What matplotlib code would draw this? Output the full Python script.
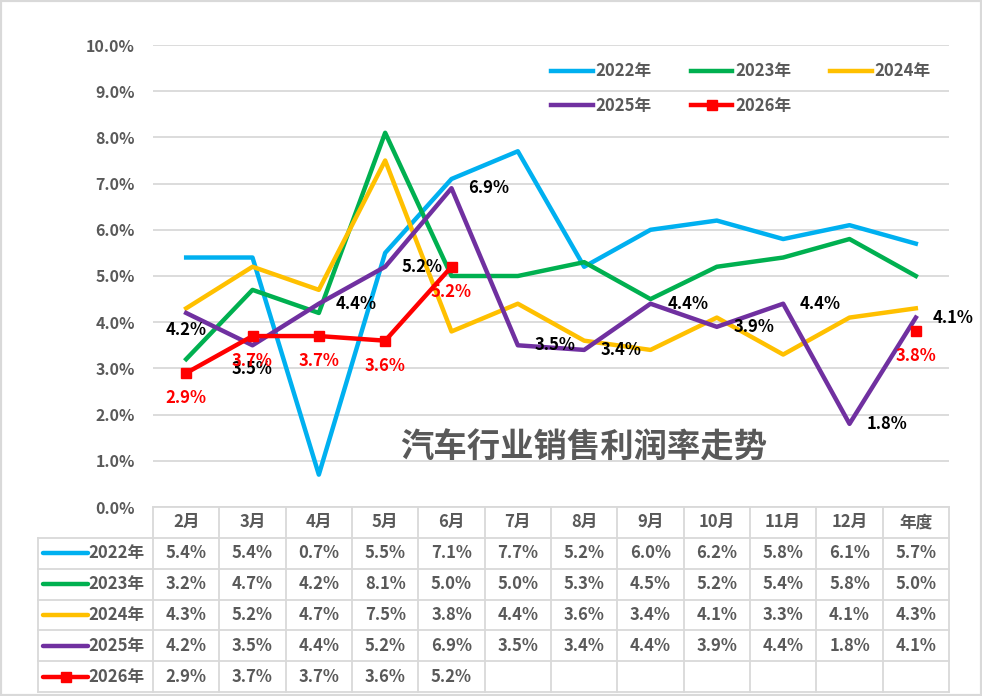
import numpy as np
import matplotlib
matplotlib.use('Agg')
import matplotlib.pyplot as plt
from matplotlib.patches import Rectangle

plt.rcParams['font.family'] = ['Noto Sans CJK SC', 'DejaVu Sans']

months = ['2月', '3月', '4月', '5月', '6月', '7月', '8月', '9月', '10月', '11月', '12月', '年度']
years = ['2022年', '2023年', '2024年', '2025年', '2026年']

y2022 = [5.4, 5.4, 0.7, 5.5, 7.1, 7.7, 5.2, 6.0, 6.2, 5.8, 6.1, 5.7]
y2023 = [3.2, 4.7, 4.2, 8.1, 5.0, 5.0, 5.3, 4.5, 5.2, 5.4, 5.8, 5.0]
y2024 = [4.3, 5.2, 4.7, 7.5, 3.8, 4.4, 3.6, 3.4, 4.1, 3.3, 4.1, 4.3]
y2025 = [4.2, 3.5, 4.4, 5.2, 6.9, 3.5, 3.4, 4.4, 3.9, 4.4, 1.8, 4.1]
y2026 = [2.9, 3.7, 3.7, 3.6, 5.2, None, None, None, None, None, None, 3.8]

colors = ['#00B0F0', '#00B050', '#FFC000', '#7030A0', '#FF0000']
gray = '#595959'
grid = '#D9D9D9'

W, H = 982, 696
fig = plt.figure(figsize=(W / 100, H / 100), dpi=100)

def px_rect(x0, y0, x1, y1):
    # pixel box (top-left origin) -> figure fraction
    return [x0 / W, 1 - y1 / H, (x1 - x0) / W, (y1 - y0) / H]

ax = fig.add_axes(px_rect(153, 45, 949, 507))
x = np.arange(len(months))
series = [y2022, y2023, y2024, y2025, y2026]
for name, vals, c in zip(years, series, colors):
    v = np.array([np.nan if a is None else a for a in vals], dtype=float)
    if name == '2026年':
        ax.plot(x, v, color=c, lw=3.2, marker='s', ms=7, label=name, zorder=5)
    else:
        ax.plot(x, v, color=c, lw=3.2, label=name, zorder=3)

ax.set_xlim(-0.5, len(months) - 0.5)
ax.set_ylim(0, 10)
ax.set_yticks(np.arange(0, 11))
ax.set_yticklabels(['%.1f%%' % t for t in range(11)])
ax.set_xticks([])
ax.tick_params(axis='y', length=0, pad=13, labelsize=11.5, labelcolor=gray)
for lab in ax.get_yticklabels():
    lab.set_fontweight('bold')
ax.grid(axis='y', color=grid, lw=1.3)
ax.set_axisbelow(True)
for s in ax.spines.values():
    s.set_visible(False)

# data labels: 2025 (black) and 2026 (red)
lab_font = dict(fontsize=12, fontweight='bold')
for i, v in enumerate(y2025):
    if i < 2:
        ax.annotate('%.1f%%' % v, (i, v), xytext=(0, -12 if i == 0 else -17),
                    textcoords='offset points', ha='center', va='center',
                    color='black', zorder=6, **lab_font)
    else:
        ax.annotate('%.1f%%' % v, (i, v), xytext=(12, 0),
                    textcoords='offset points', ha='left', va='center',
                    color='black', zorder=6, **lab_font)
for i, v in enumerate(y2026):
    if v is None:
        continue
    ax.annotate('%.1f%%' % v, (i, v), xytext=(0, -18),
                textcoords='offset points', ha='center', va='center',
                color='#FF0000', zorder=6, **lab_font)

ax.text(0.541, 0.128, '汽车行业销售利润率走势', transform=ax.transAxes,
        ha='center', va='center', fontsize=24, fontweight='bold', color=gray)

handles, labels = ax.get_legend_handles_labels()
order = [0, 3, 1, 4, 2]
ax.legend([handles[k] for k in order], [labels[k] for k in order], ncol=3,
          loc='upper left', bbox_to_anchor=((543 - 153) / 796, 1 - 9 / 462),
          frameon=False, handlelength=2.5, handletextpad=0.15,
          columnspacing=2.35, labelspacing=1.0, borderpad=0,
          prop=dict(size=12, weight='bold'), labelcolor=gray)

# data table below the plot
tax = fig.add_axes(px_rect(38, 507, 949, 692))
left = -0.5 - 115 / 66.33
tax.set_xlim(left, len(months) - 0.5)
tax.set_ylim(6, 0)
tax.axis('off')
tax.plot([-0.5, len(months) - 0.5], [0, 0], color=grid, lw=1.3, clip_on=False)
for r in range(1, 7):
    tax.plot([left, len(months) - 0.5], [r, r], color=grid, lw=1.3, clip_on=False)
tax.plot([left, left], [1, 6], color=grid, lw=1.3, clip_on=False)
for c in range(len(months) + 1):
    tax.plot([c - 0.5, c - 0.5], [0, 6], color=grid, lw=1.3, clip_on=False)

cell_font = dict(fontsize=12, fontweight='bold', color=gray, ha='center', va='center')
for j, m in enumerate(months):
    tax.text(j, 0.5, m, **cell_font)
for r, (name, vals, c) in enumerate(zip(years, series, colors), start=1):
    yc = r + 0.5
    hx0, hx1 = left + 5 / 66.33, left + 50 / 66.33
    tax.plot([hx0, hx1], [yc, yc], color=c, lw=3.2, solid_capstyle='round')
    if name == '2026年':
        tax.plot([(hx0 + hx1) / 2], [yc], color=c, marker='s', ms=7)
    tax.text(hx1, yc, name, fontsize=12, fontweight='bold', color=gray,
             ha='left', va='center')
    for j, v in enumerate(vals):
        # 2026 annual cell is hidden under a watermark in the source
        if v is None or (name == '2026年' and j == len(months) - 1):
            continue
        tax.text(j, yc, '%.1f%%' % v, **cell_font)

fig.patches.append(Rectangle((0, 0), 1, 1, transform=fig.transFigure,
                             fill=False, edgecolor=grid, lw=3))

fig.savefig('out.png', dpi=100, facecolor='white')
